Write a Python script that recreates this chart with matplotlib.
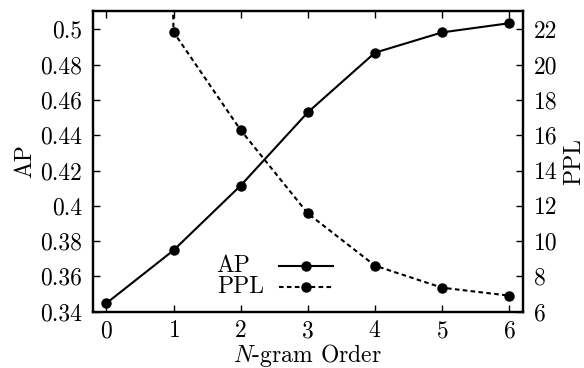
import numpy as np
import matplotlib
matplotlib.use('Agg')
import matplotlib.pyplot as plt
from matplotlib.ticker import FuncFormatter

plt.rcParams['font.family'] = 'cmr10'
plt.rcParams['mathtext.fontset'] = 'cm'
plt.rcParams['axes.formatter.use_mathtext'] = True

# data
order = [0, 1, 2, 3, 4, 5, 6]
ap    = [0.3448, 0.3748, 0.4115, 0.4530, 0.4868, 0.4983, 0.5035]
ppl   = [200.0, 21.85, 16.29, 11.57, 8.61, 7.36, 6.91]

ap_ticks  = [0.34, 0.36, 0.38, 0.40, 0.42, 0.44, 0.46, 0.48, 0.50]
ppl_ticks = [6, 8, 10, 12, 14, 16, 18, 20, 22]

FS = 17
DASH = (0, (2.2, 1.6))

fig = plt.figure(figsize=(5.84, 3.68), dpi=100)
ax = fig.add_axes([0.1592, 0.153, 0.7358, 0.817])
ax2 = ax.twinx()

line_kw = dict(color='black', lw=1.5, marker='o', ms=6.5)
ax.plot(order, ap, ls='-', **line_kw)
ax2.plot(order, ppl, ls=DASH, **line_kw)

ax.set_xlim(-0.2, 6.2)
ax.set_ylim(0.34, 0.5104)
ax2.set_ylim(6, 23.04)

ax.set_xticks(order)
ax.set_yticks(ap_ticks)
ax2.set_yticks(ppl_ticks)
ax.yaxis.set_major_formatter(FuncFormatter(lambda v, p: f"{v:g}"))
ax2.yaxis.set_major_formatter(FuncFormatter(lambda v, p: f"{v:g}"))

for a in (ax, ax2):
    for s in a.spines.values():
        s.set_linewidth(1.6)
ax.tick_params(axis='x', direction='in', top=True, length=5, width=1.0,
               labelsize=FS, pad=6)
ax.tick_params(axis='y', direction='in', length=5, width=1.0,
               labelsize=FS, pad=8)
ax2.tick_params(axis='y', direction='in', length=5, width=1.0,
                labelsize=FS, pad=8)

ax.set_xlabel(r"$N$-gram Order", fontsize=FS, labelpad=0)
ax.set_ylabel("AP", fontsize=FS, labelpad=3)
ax2.set_ylabel("PPL", fontsize=FS, labelpad=4)

# gnuplot-style key: left-justified text, sample on the right
key_rows = [("AP", '-', 0.152), ("PPL", DASH, 0.083)]
for label, ls, yk in key_rows:
    ax.text(0.288, yk, label, transform=ax.transAxes, fontsize=FS,
            ha='left', va='center')
    ax.plot([0.433, 0.5585], [yk, yk], transform=ax.transAxes,
            color='black', lw=1.5, ls=ls)
    ax.plot([0.496], [yk], transform=ax.transAxes, color='black',
            marker='o', ms=6.5)

fig.savefig("out.png", dpi=100)
plt.close(fig)
